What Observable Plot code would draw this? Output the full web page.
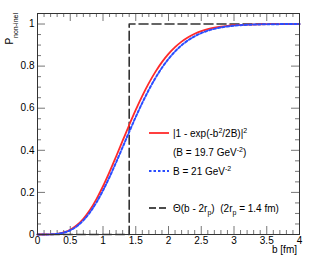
<!DOCTYPE html>
<html>
<head>
<meta charset="utf-8">
<script src="https://cdn.jsdelivr.net/npm/d3@7"></script>
<script src="https://cdn.jsdelivr.net/npm/@observablehq/plot@0.6"></script>
<style>
  html, body { margin: 0; padding: 0; background: #fff; }
  svg { font-family: "Liberation Sans", Arial, sans-serif; }
</style>
</head>
<body>
<div id="chart"></div>
<script>
// impact parameter b [fm]
const bValues = [0,0.1,0.2,0.3,0.4,0.5,0.6,0.7,0.8,0.9,1.0,1.1,1.2,1.3,1.4,1.5,1.6,1.7,1.8,1.9,2.0,2.1,2.2,2.3,2.4,2.5,2.6,2.7,2.8,2.9,3.0,3.2,3.4,3.6,3.8,4.0];
// |1 - exp(-b^2/2B)|^2, B = 19.7 GeV^-2 (red)
const redP = [0,0.0000,0.0007,0.0032,0.0098,0.0226,0.0438,0.0747,0.1163,0.1683,0.2293,0.2976,0.3707,0.4457,0.5202,0.5918,0.6585,0.7191,0.7726,0.8189,0.8580,0.8903,0.9165,0.9374,0.9537,0.9663,0.9758,0.9828,0.9880,0.9917,0.9944,0.9975,0.9989,0.9996,0.9998,0.9999];
// B = 21 GeV^-2 (blue dotted)
const blueP = [0,0.0000,0.0006,0.0029,0.0087,0.0201,0.0390,0.0670,0.1049,0.1525,0.2092,0.2733,0.3427,0.4149,0.4876,0.5585,0.6256,0.6875,0.7432,0.7921,0.8342,0.8697,0.8990,0.9228,0.9418,0.9567,0.9682,0.9769,0.9835,0.9883,0.9919,0.9962,0.9983,0.9993,0.9997,0.9999];
// Theta(b - 2r_p), 2r_p = 1.4 fm (black dashed)
const stepB = [0, 1.4, 1.4, 4];
const stepP = [0, 0, 1, 1];

const xMajor = [0,0.5,1,1.5,2,2.5,3,3.5,4];
const xMinor = d3.range(0, 41).map(i => i / 10).filter(v => !xMajor.some(m => Math.abs(m - v) < 1e-9));
const yMajor = [0,0.2,0.4,0.6,0.8,1];
const yMinor = d3.range(0, 22).map(i => i * 0.05).filter(v => !yMajor.some(m => Math.abs(m - v) < 1e-9));

const W = 315, H = 266;
const mL = 37, mR = 16, mT = 13, mB = 32;
const fw = W - mL - mR, fh = H - mT - mB;
const tickCol = "#777";
const fmt = d3.format("~g");

const redData = bValues.map((b, i) => ({b, p: redP[i]}));
const blueData = bValues.map((b, i) => ({b, p: blueP[i]}));
const stepData = stepB.map((b, i) => ({b, p: stepP[i]}));

const plot = Plot.plot({
  width: W, height: H,
  marginLeft: mL, marginRight: mR, marginTop: mT, marginBottom: mB,
  x: {domain: [0, 4]},
  y: {domain: [0, 1.05]},
  style: {fontFamily: "'Liberation Sans', Arial, sans-serif", fontSize: "10px", color: "#000", background: "#fff"},
  marks: [
    // ticks (inside, all four sides)
    Plot.tickX(xMajor, {insetTop: fh - 8, stroke: tickCol}),
    Plot.tickX(xMinor, {insetTop: fh - 4, stroke: tickCol}),
    Plot.tickX(xMajor, {insetBottom: fh - 8, stroke: tickCol}),
    Plot.tickX(xMinor, {insetBottom: fh - 4, stroke: tickCol}),
    Plot.tickY(yMajor, {insetRight: fw - 8, stroke: tickCol}),
    Plot.tickY(yMinor, {insetRight: fw - 4, stroke: tickCol}),
    Plot.tickY(yMajor, {insetLeft: fw - 8, stroke: tickCol}),
    Plot.tickY(yMinor, {insetLeft: fw - 4, stroke: tickCol}),
    Plot.axisX({ticks: xMajor, tickSize: 0, tickPadding: 2, label: null, fontSize: 10, tickFormat: fmt}),
    Plot.axisY({ticks: yMajor, tickSize: 0, tickPadding: 3, label: null, fontSize: 10, tickFormat: fmt}),
    Plot.line(stepData, {x: "b", y: "p", stroke: "#333", strokeWidth: 1.6, strokeDasharray: "9,4"}),
    Plot.line(redData, {x: "b", y: "p", stroke: "#ff2a2a", strokeWidth: 1.8, curve: "monotone-x"}),
    Plot.line(blueData, {x: "b", y: "p", stroke: "#2a4dff", strokeWidth: 2, strokeDasharray: "2.5,2", curve: "monotone-x"}),
    Plot.frame({stroke: "#333"})
  ]
});
document.getElementById("chart").appendChild(plot);

const svg = d3.select(plot);
const F = "'Liberation Sans', Arial, sans-serif";

// x-axis title
svg.append("text").attr("x", W - mR - 2).attr("y", 253).attr("text-anchor", "end")
  .attr("font-size", 10).attr("font-family", F).text("b [fm]");

// y-axis title P_non-inel (rotated)
const yt = svg.append("text").attr("transform", `translate(12.5,${mT}) rotate(-90)`)
  .attr("text-anchor", "end").attr("font-family", F).attr("font-size", 10);
yt.append("tspan").text("P");
yt.append("tspan").attr("font-size", 7).attr("dy", 5).text("non-inel");

// legend
const lx1 = 149, lx2 = 169, tx = 173;
svg.append("line").attr("x1", lx1).attr("x2", lx2).attr("y1", 133).attr("y2", 133)
  .attr("stroke", "#ff2a2a").attr("stroke-width", 1.8);
svg.append("line").attr("x1", lx1).attr("x2", lx2).attr("y1", 171).attr("y2", 171)
  .attr("stroke", "#2a4dff").attr("stroke-width", 2).attr("stroke-dasharray", "2.5,2");
svg.append("line").attr("x1", lx1).attr("x2", lx2).attr("y1", 208).attr("y2", 208)
  .attr("stroke", "#111").attr("stroke-width", 1.6).attr("stroke-dasharray", "7,3");

function legText(y) {
  return svg.append("text").attr("x", tx).attr("y", y).attr("text-anchor", "start")
    .attr("font-family", F).attr("font-size", 10);
}
let t = legText(136.5);
t.append("tspan").text("|1 - exp(-b");
t.append("tspan").attr("font-size", 7).attr("dy", -4).text("2");
t.append("tspan").attr("dy", 4).text("/2B)|");
t.append("tspan").attr("font-size", 7).attr("dy", -4).text("2");

t = legText(155.5);
t.append("tspan").text("(B = 19.7 GeV");
t.append("tspan").attr("font-size", 7).attr("dy", -4).text("-2");
t.append("tspan").attr("dy", 4).text(")");

t = legText(175);
t.append("tspan").text("B = 21 GeV");
t.append("tspan").attr("font-size", 7).attr("dy", -4).text("-2");

t = legText(211.5);
t.append("tspan").text("\u0398(b - 2r");
t.append("tspan").attr("font-size", 7).attr("dy", 3).text("p");
t.append("tspan").attr("dy", -3).text(")  (2r");
t.append("tspan").attr("font-size", 7).attr("dy", 3).text("p");
t.append("tspan").attr("dy", -3).text(" = 1.4 fm)");
</script>
</body>
</html>
